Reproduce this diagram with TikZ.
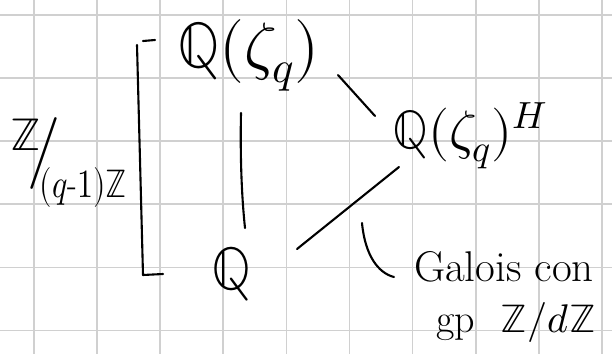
\documentclass[tikz,border=0pt]{standalone}
\usepackage{unicode-math}
\setmathfont{Latin Modern Math}
\definecolor{gridgray}{HTML}{D0D0D0}
\begin{document}
\begin{tikzpicture}[x=1pt,y=-1pt,
  hand/.style={line width=2.1pt, line cap=round, line join=round, draw=black},
  gridline/.style={line width=1.7pt, draw=gridgray},
  lbl/.style={inner sep=0pt, outer sep=0pt, text=black}]
\useasboundingbox (0,0) rectangle (612,354);
\fill[white] (0,0) rectangle (612,354);
% squared paper
\foreach \i in {0,...,9} \draw[gridline] ({34+63.1*\i},0) -- ({34+63.1*\i},354);
\foreach \j in {0,...,5} \draw[gridline] (0,{15+63.1*\j}) -- (612,{15+63.1*\j});

% the three fields
\node[lbl, anchor=base west, font=\fontsize{64}{66}\selectfont] (top) at (177,67) {$\mathbb{Q}(\zeta_q)$};
\node[lbl, anchor=base west, font=\fontsize{54}{56}\selectfont] (fix) at (392,148) {$\mathbb{Q}(\zeta_q)^H$};
\node[lbl, anchor=base west, font=\fontsize{60}{62}\selectfont] (base) at (211,289) {$\mathbb{Q}$};

% Galois group of the whole extension, written as a slanted quotient
\node[lbl, anchor=base west] (quot) at (10,150)
  {{\fontsize{46}{48}\selectfont$\mathbb{Z}$}\kern-13pt%
   \raisebox{-21pt}{\fontsize{72}{74}\selectfont/}\kern-21pt%
   \raisebox{-47pt}{\fontsize{40}{42}\selectfont\scalebox{0.8}[1]{$(q$-$1)\mathbb{Z}$}}};

% note on the lower extension
\node[lbl, anchor=base west, font=\fontsize{43}{45}\selectfont] (gal) at (414,281) {Galois con};
\node[lbl, anchor=base west, font=\fontsize{40}{42}\selectfont] (grp) at (436,332) {gp\hspace{26pt}$\mathbb{Z}/d\mathbb{Z}$};

% end points of the strokes
\coordinate (tb1) at (241,113);
\coordinate (tb2) at (245,228);
\coordinate (tf1) at (338,75);
\coordinate (tf2) at (375,116);
\coordinate (bf1) at (297,249);
\coordinate (bf2) at (399,167);
\coordinate (gt1) at (362,223);
\coordinate (gt2) at (394,277);
\coordinate (br1) at (143,41);
\coordinate (br2) at (155,40);
\coordinate (br3) at (137,45);
\coordinate (br4) at (143,275);
\coordinate (br5) at (163,274);

% lattice of fields
\draw[hand] (tb1) .. controls (240,160) and (242,200) .. (tb2);
\draw[hand] (tf1) -- (tf2);
\draw[hand] (bf1) -- (bf2);
% pointer to the note
\draw[hand] (gt1) .. controls (365,255) and (378,273) .. (gt2);
% bracket spanning the full extension
\draw[hand] (br1) -- (br2);
\draw[hand] (br3) -- (br4) -- (br5);
\end{tikzpicture}
\end{document}
